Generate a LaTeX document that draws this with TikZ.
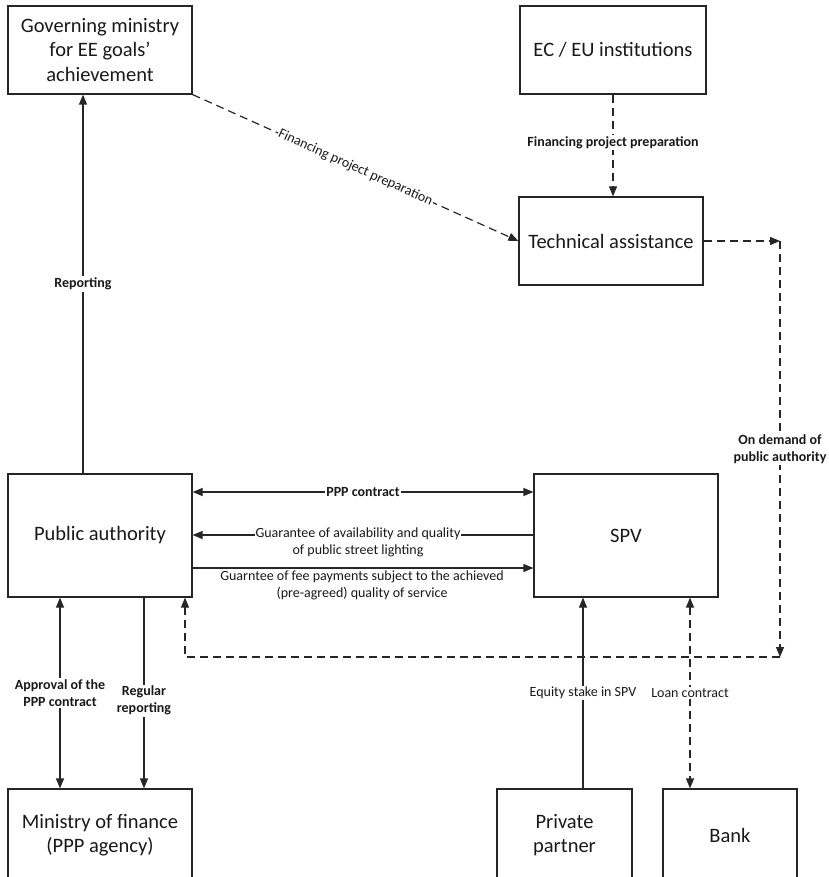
\documentclass[tikz,border=0pt]{standalone}
\usepackage{fontspec}
\setmainfont{Carlito}
\usetikzlibrary{arrows.meta}
\begin{document}
\begin{tikzpicture}[x=1pt,y=-1pt,
  >={Triangle[length=10pt,width=8pt]},
  box/.style={draw=black!85, line width=1.2pt, align=center, inner sep=0pt,
    text=black!90, font=\fontsize{20.5}{24.5}\selectfont},
  lbl/.style={font=\fontsize{14}{17}\selectfont, align=center, text=black!90,
    fill=white, inner sep=1.5pt},
  blbl/.style={lbl, font=\bfseries\fontsize{14}{17}\selectfont},
  con/.style={draw=black!85, line width=1.2pt},
  dsh/.style={con, dash pattern=on 8pt off 5pt}]
\useasboundingbox (0,0) rectangle (828,877);
\clip (0,0) rectangle (828,877);
% boxes
\node[box, minimum width=184pt, minimum height=88pt] (gov) at (100,50) {Governing ministry\\for EE goals'\\achievement};
\node[box, minimum width=186pt, minimum height=88pt] (ec) at (613,50) {EC / EU institutions};
\node[box, minimum width=184pt, minimum height=88pt] (ta) at (611,241) {Technical assistance};
\node[box, minimum width=184pt, minimum height=123pt] (pa) at (100,535.5) {Public authority};
\node[box, minimum width=184pt, minimum height=123pt] (spv) at (626,535.5) {SPV};
\node[box, minimum width=184pt, minimum height=92pt] (mof) at (100,835) {Ministry of finance\\(PPP agency)};
\node[box, minimum width=135pt, minimum height=92pt] (pp) at (564.5,835) {Private\\partner};
\node[box, minimum width=134pt, minimum height=92pt] (bank) at (730,835) {Bank};
% helper coordinates
\coordinate (xrep) at (83,0);
\coordinate (xec) at (613,0);
\coordinate (xapp) at (60,0);
\coordinate (xreg) at (144,0);
\coordinate (xret) at (185,0);
\coordinate (xeq) at (583,0);
\coordinate (xloan) at (690,0);
\coordinate (yppp) at (0,492);
\coordinate (yg1) at (0,535);
\coordinate (yg2) at (0,568);
\coordinate (c1) at (780,241);
\coordinate (c2) at (780,657);
\coordinate (c3) at (185,657);
% connectors
\draw[con,->] (pa.north -| xrep) -- node[blbl]{Reporting} (gov.south -| xrep);
\draw[dsh,->] (gov.south east) -- node[lbl, sloped, inner sep=1pt]{Financing project preparation} (ta.west);
\draw[dsh,->] (ec.south -| xec) -- node[blbl, pos=0.47]{Financing project preparation} (ta.north -| xec);
\draw[dsh,->] (ta.east) -- (c1);
\draw[dsh,->] (c1) -- node[blbl, inner sep=1pt]{On demand of\\public authority} (c2);
\draw[dsh,->] (c2) -- (c3) -- (pa.south -| xret);
\draw[con,<->] (pa.east |- yppp) -- node[blbl, inner sep=1pt]{PPP contract} (spv.west |- yppp);
\draw[con,->] (spv.west |- yg1) -- node[lbl, yshift=-7pt, xshift=-5pt, inner sep=1pt]{Guarantee of availability and quality\\of public street lighting} (pa.east |- yg1);
\draw[con,->] (pa.east |- yg2) -- node[lbl, yshift=-17pt, xshift=-1pt, inner sep=1pt]{Guarntee of fee payments subject to the achieved\\(pre-agreed) quality of service} (spv.west |- yg2);
\draw[con,<->] (pa.south -| xapp) -- node[blbl]{Approval of the\\PPP contract} (mof.north -| xapp);
\draw[con,->] (pa.south -| xreg) -- node[blbl, pos=0.54]{Regular\\reporting} (mof.north -| xreg);
\draw[con,->] (pp.north -| xeq) -- node[lbl]{Equity stake in SPV} (spv.south -| xeq);
\draw[dsh,<->] (spv.south -| xloan) -- node[lbl]{Loan contract} (bank.north -| xloan);
\end{tikzpicture}
\end{document}
